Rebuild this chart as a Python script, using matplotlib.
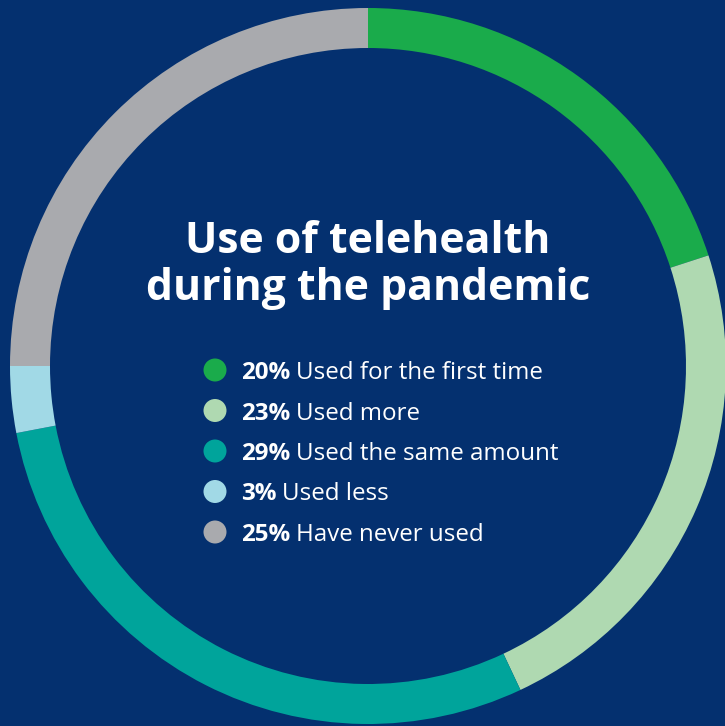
import matplotlib
matplotlib.use("Agg")
import matplotlib.pyplot as plt
from matplotlib.patches import Circle

categories = ["Used for the first time", "Used more", "Used the same amount", "Used less", "Have never used"]
values = [20, 23, 29, 3, 25]
colors = ["#1aab4b", "#afd9b1", "#00a49b", "#a1d9e6", "#a9aaae"]
title_lines = ["Use of telehealth", "during the pandemic"]

BG = "#04306f"
W, H = 725, 726
fig = plt.figure(figsize=(W / 100, H / 100), dpi=100, facecolor=BG)
ax = fig.add_axes([0, 0, 1, 1])
ax.set_facecolor(BG)

cx, cy = 368, H - 366
R = 358
ax.pie(values, colors=colors, startangle=90, counterclock=False,
       radius=R, center=(cx, cy),
       wedgeprops=dict(width=40, linewidth=0))
ax.set_xlim(0, W)
ax.set_ylim(0, H)
ax.set_aspect("equal")
ax.axis("off")

plt.rcParams["font.family"] = ["Open Sans", "DejaVu Sans"]

ax.text(cx, H - 253, title_lines[0], ha="center", va="baseline", color="white",
        fontsize=30.8, fontweight="bold")
ax.text(cx, H - 300, title_lines[1], ha="center", va="baseline", color="white",
        fontsize=30.8, fontweight="bold")

fig.canvas.draw()
renderer = fig.canvas.get_renderer()
row_y0 = 370
row_dy = 40.5
for i, (cat, val, col) in enumerate(zip(categories, values, colors)):
    y = H - (row_y0 + i * row_dy)
    ax.add_patch(Circle((215, y), 11.5, color=col, lw=0))
    t = ax.text(241, y, f"{val}%", ha="left", va="center_baseline", color="white",
                fontsize=17.4, fontweight="bold")
    bb = t.get_window_extent(renderer)
    ax.text(bb.x1 + 6, y, cat, ha="left", va="center_baseline", color="white",
            fontsize=17.4)

fig.savefig("out.png", dpi=100, facecolor=BG)
